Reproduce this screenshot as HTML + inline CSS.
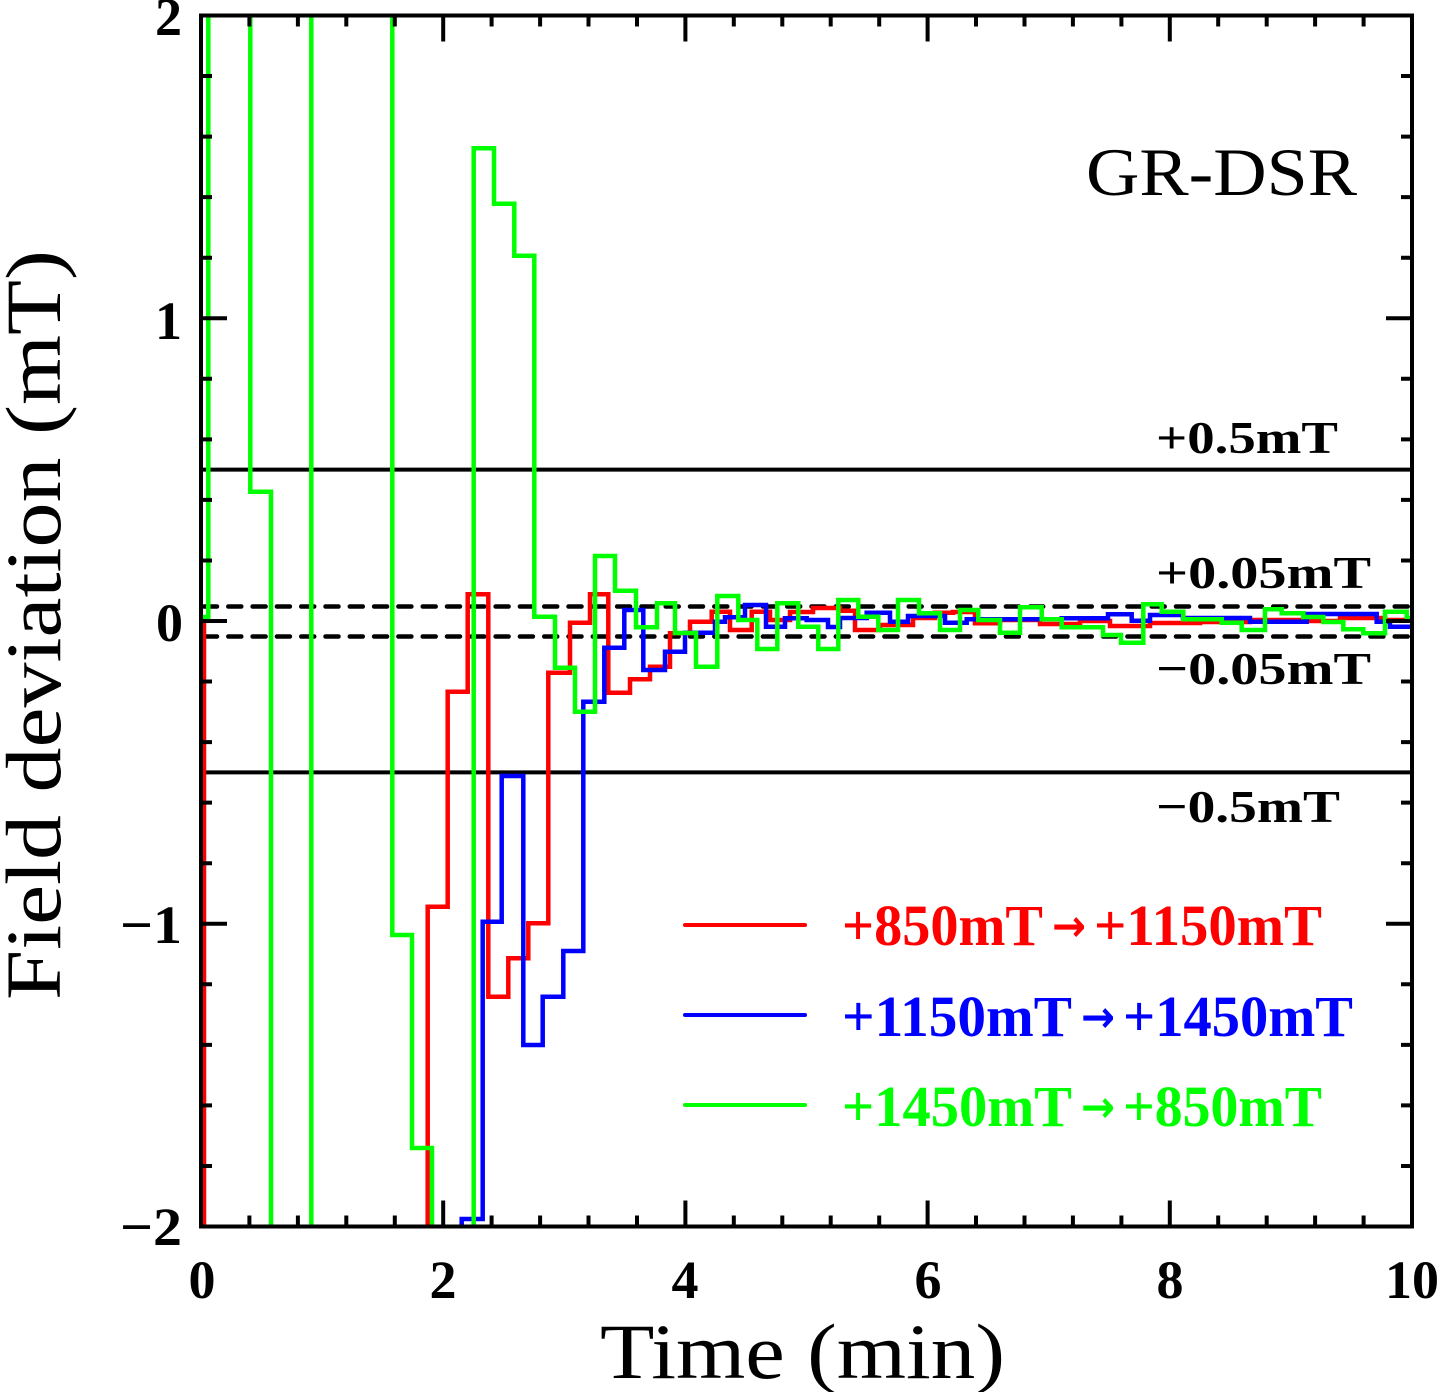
<!DOCTYPE html>
<html>
<head>
<meta charset="utf-8">
<style>
  html, body { margin: 0; padding: 0; background: #ffffff; }
  svg { display: block; }
  .tick { font-family: "Liberation Serif", serif; font-weight: bold; font-size: 54px; fill: #000; }
  .lab { font-family: "Liberation Serif", serif; font-size: 78px; fill: #000; }
  .ann { font-family: "Liberation Serif", serif; font-weight: bold; font-size: 46px; fill: #000; }
  .leg { font-family: "Liberation Serif", serif; font-weight: bold; font-size: 58px; }
  .arr { font-family: "DejaVu Sans", sans-serif; font-weight: bold; font-size: 44px; }
</style>
</head>
<body>
<svg width="1439" height="1392" viewBox="0 0 1439 1392" xmlns="http://www.w3.org/2000/svg">
  <rect x="0" y="0" width="1439" height="1392" fill="#ffffff"/>
  <defs>
    <clipPath id="plot">
      <rect x="201" y="15.5" width="1211" height="1211"/>
    </clipPath>
  </defs>

  <!-- reference lines -->
  <g stroke="#000" stroke-width="4" fill="none">
    <line x1="201" y1="469.6" x2="1412" y2="469.6"/>
    <line x1="201" y1="772.4" x2="1412" y2="772.4"/>
  </g>
  <g stroke="#000" stroke-width="4.5" fill="none" stroke-dasharray="13 11.3" stroke-linecap="round">
    <line x1="204" y1="606.5" x2="1412" y2="606.5"/>
    <line x1="204" y1="636.5" x2="1412" y2="636.5"/>
  </g>

  <!-- data series -->
  <g clip-path="url(#plot)" fill="none" stroke-width="4.5" stroke-linejoin="miter">
    <path stroke="#ff0000" d="M201,623 H204 V1235
      M427.7,1235 V906.7 H447.7 V691.7 H467.7 V594.3 H488.3 V996.7 H508.3 V958.3 H528.3 V923.3 H548.3 V672.7 H570 V622.7 H590 V594.3 H608.3 V692.7 H630 V679.3 H650 V666.7 H670 V633.3 H690 V621.7 H711.7 V611.7 H730 V630 H751.7 V611.7 H770 V620 H790 V612 H813 V608 H840 V610.7 H855 V630 H880 V625 H913 V618 H935 V612.7 H953 V612 H975 V623.3 H1000 V620 H1040 V624 H1080 V621 H1110 V626 H1150 V623 H1200 V622 H1250 V620 H1300 V621 H1340 V618 H1385 V620 H1412"/>
    <path stroke="#0000ff" d="M461.7,1235 V1219 H482.7 V921.7 H501.7 V776 H523.3 V1045 H542.7 V996.7 H563.3 V951 H583.3 V701.7 H604.3 V647.7 H624.3 V610 H643.3 V670 H665 V651.7 H685 V632.7 H715 V621.7 H725 V617.3 H745 V605 H766 V626.7 H785 V618.3 H806.7 V620 H828 V627 H840 V618 H866.7 V612.7 H890 V621.7 H908 V616 H945 V622.7 H966.7 V619.3 H1061.7 V618.3 H1108 V614.3 H1131.7 V620.7 H1150 V615 H1183 V618 H1250 V621.7 H1306.7 V614 H1376.7 V621.7 H1390 V626.7 H1412"/>
    <path stroke="#00ff00" d="M201,617 H208.3 V5
      M250.3,5 V491.7 H271 V1235
      M311.3,1235 V5
      M392.3,5 V935 H412 V1148 H432 V1235
      M473.7,1235 V148.3 H494 V203.7 H514.3 V255.7 H534.3 V616.7 H555 V667.7 H575 V711.7 H595 V556 H615 V590.7 H636 V627.3 H657 V603.3 H675 V633 H696 V666.7 H717.3 V596 H738.3 V620 H757.3 V649 H777.3 V603.3 H798.3 V626.7 H818.3 V649 H838.3 V600 H858.3 V616.7 H878.3 V630 H898 V600 H919 V613.3 H940 V630 H960 V610 H978.3 V620 H1000 V632.7 H1020 V607.3 H1041.7 V619.3 H1061.7 V627.3 H1103 V635 H1121 V642.7 H1143.3 V604.3 H1161.7 V611.7 H1183.3 V619.3 H1221.7 V622.7 H1241.7 V630 H1265 V609.3 H1281.7 V613.3 H1303.3 V617 H1323.3 V622 H1343.3 V629.3 H1363.3 V633.3 H1385 V611.7 H1406.7 V618 H1412"/>
  </g>

  <!-- frame -->
  <rect x="201" y="15.5" width="1211" height="1211" fill="none" stroke="#000" stroke-width="4"/>

  <!-- ticks -->
  <g stroke="#000" stroke-width="4" fill="none">
    <path d="M201,1226.5 v-26 M249.4,1226.5 v-11 M297.9,1226.5 v-11 M346.3,1226.5 v-11 M394.8,1226.5 v-11 M443.2,1226.5 v-26
             M491.6,1226.5 v-11 M540.1,1226.5 v-11 M588.5,1226.5 v-11 M637,1226.5 v-11 M685.4,1226.5 v-26
             M733.8,1226.5 v-11 M782.3,1226.5 v-11 M830.7,1226.5 v-11 M879.2,1226.5 v-11 M927.6,1226.5 v-26
             M976,1226.5 v-11 M1024.5,1226.5 v-11 M1072.9,1226.5 v-11 M1121.4,1226.5 v-11 M1169.8,1226.5 v-26
             M1218.2,1226.5 v-11 M1266.7,1226.5 v-11 M1315.1,1226.5 v-11 M1363.6,1226.5 v-11 M1412,1226.5 v-26"/>
    <path d="M201,15.5 v26 M249.4,15.5 v11 M297.9,15.5 v11 M346.3,15.5 v11 M394.8,15.5 v11 M443.2,15.5 v26
             M491.6,15.5 v11 M540.1,15.5 v11 M588.5,15.5 v11 M637,15.5 v11 M685.4,15.5 v26
             M733.8,15.5 v11 M782.3,15.5 v11 M830.7,15.5 v11 M879.2,15.5 v11 M927.6,15.5 v26
             M976,15.5 v11 M1024.5,15.5 v11 M1072.9,15.5 v11 M1121.4,15.5 v11 M1169.8,15.5 v26
             M1218.2,15.5 v11 M1266.7,15.5 v11 M1315.1,15.5 v11 M1363.6,15.5 v11 M1412,15.5 v26"/>
    <path d="M201,1226.5 h26 M201,1165.95 h11 M201,1105.4 h11 M201,1044.85 h11 M201,984.3 h11 M201,923.75 h26
             M201,863.2 h11 M201,802.65 h11 M201,742.1 h11 M201,681.55 h11 M201,621 h26
             M201,560.45 h11 M201,499.9 h11 M201,439.35 h11 M201,378.8 h11 M201,318.25 h26
             M201,257.7 h11 M201,197.15 h11 M201,136.6 h11 M201,76.05 h11 M201,15.5 h26"/>
    <path d="M1412,1226.5 h-26 M1412,1165.95 h-11 M1412,1105.4 h-11 M1412,1044.85 h-11 M1412,984.3 h-11 M1412,923.75 h-26
             M1412,863.2 h-11 M1412,802.65 h-11 M1412,742.1 h-11 M1412,681.55 h-11 M1412,621 h-26
             M1412,560.45 h-11 M1412,499.9 h-11 M1412,439.35 h-11 M1412,378.8 h-11 M1412,318.25 h-26
             M1412,257.7 h-11 M1412,197.15 h-11 M1412,136.6 h-11 M1412,76.05 h-11 M1412,15.5 h-26"/>
  </g>

  <!-- y tick labels -->
  <g class="tick" text-anchor="end">
    <text x="182" y="35">2</text>
    <text x="182" y="339">1</text>
    <text x="183" y="641">0</text>
    <text x="182" y="943" textLength="62" lengthAdjust="spacingAndGlyphs">−1</text>
    <text x="182" y="1245" textLength="62" lengthAdjust="spacingAndGlyphs">−2</text>
  </g>
  <!-- x tick labels -->
  <g class="tick" text-anchor="middle">
    <text x="202" y="1298">0</text>
    <text x="443" y="1298">2</text>
    <text x="685" y="1298">4</text>
    <text x="928" y="1298">6</text>
    <text x="1170" y="1298">8</text>
    <text x="1412" y="1298">10</text>
  </g>

  <!-- axis labels -->
  <text class="lab" x="600" y="1378" textLength="405" lengthAdjust="spacingAndGlyphs">Time (min)</text>
  <text class="lab" transform="translate(60,1000) rotate(-90)" x="0" y="0" textLength="750" lengthAdjust="spacingAndGlyphs">Field deviation (mT)</text>

  <!-- title -->
  <text x="1086" y="195" font-family="Liberation Serif, serif" font-size="68" textLength="271" lengthAdjust="spacingAndGlyphs" fill="#000">GR-DSR</text>

  <!-- annotations -->
  <text class="ann" x="1156" y="453" textLength="182" lengthAdjust="spacingAndGlyphs">+0.5mT</text>
  <text class="ann" x="1156" y="588" textLength="215" lengthAdjust="spacingAndGlyphs">+0.05mT</text>
  <text class="ann" x="1156" y="684" textLength="215" lengthAdjust="spacingAndGlyphs">−0.05mT</text>
  <text class="ann" x="1156" y="822" textLength="184" lengthAdjust="spacingAndGlyphs">−0.5mT</text>

  <!-- legend -->
  <g stroke-width="4" stroke-linecap="round">
    <line x1="685" y1="925" x2="805" y2="925" stroke="#ff0000"/>
    <line x1="685" y1="1015" x2="805" y2="1015" stroke="#0000ff"/>
    <line x1="685" y1="1105" x2="805" y2="1105" stroke="#00ff00"/>
  </g>
  <g class="leg">
    <text x="842" y="945" fill="#ff0000" textLength="201" lengthAdjust="spacingAndGlyphs">+850mT</text>
    <text x="1094" y="945" fill="#ff0000" textLength="228" lengthAdjust="spacingAndGlyphs">+1150mT</text>

    <text x="842" y="1036" fill="#0000ff" textLength="230" lengthAdjust="spacingAndGlyphs">+1150mT</text>
    <text x="1123" y="1036" fill="#0000ff" textLength="230" lengthAdjust="spacingAndGlyphs">+1450mT</text>

    <text x="842" y="1126" fill="#00ff00" textLength="230" lengthAdjust="spacingAndGlyphs">+1450mT</text>
    <text x="1123" y="1126" fill="#00ff00" textLength="199" lengthAdjust="spacingAndGlyphs">+850mT</text>
  </g>
  <g class="arr">
    <text x="1052" y="941" fill="#ff0000" textLength="34" lengthAdjust="spacingAndGlyphs">→</text>
    <text x="1081" y="1032" fill="#0000ff" textLength="34" lengthAdjust="spacingAndGlyphs">→</text>
    <text x="1081" y="1122" fill="#00ff00" textLength="34" lengthAdjust="spacingAndGlyphs">→</text>
  </g>
</svg>
</body>
</html>
